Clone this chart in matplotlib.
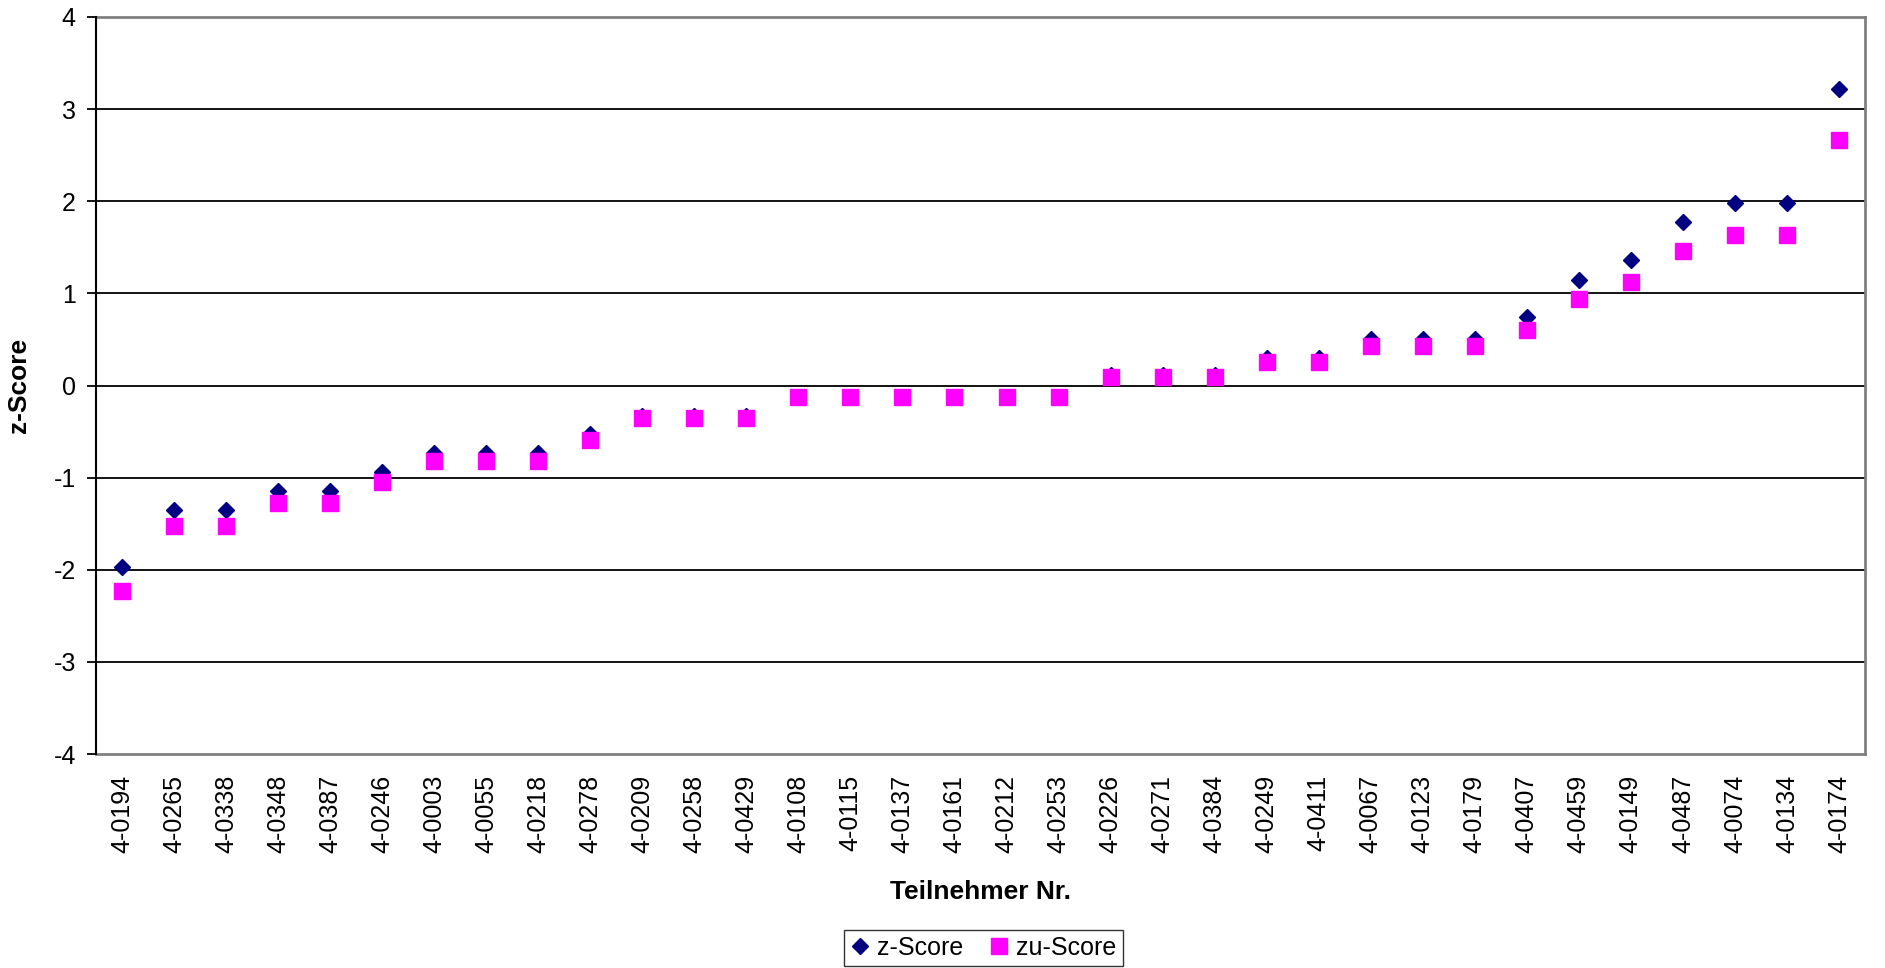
import numpy as np
import matplotlib
matplotlib.use("Agg")
import matplotlib.pyplot as plt

plt.rcParams['font.family'] = ['Liberation Sans', 'DejaVu Sans']
plt.rcParams['axes.unicode_minus'] = False

# Daten
teilnehmer = ['4-0194', '4-0265', '4-0338', '4-0348', '4-0387', '4-0246', '4-0003',
              '4-0055', '4-0218', '4-0278', '4-0209', '4-0258', '4-0429', '4-0108',
              '4-0115', '4-0137', '4-0161', '4-0212', '4-0253', '4-0226', '4-0271',
              '4-0384', '4-0249', '4-0411', '4-0067', '4-0123', '4-0179', '4-0407',
              '4-0459', '4-0149', '4-0487', '4-0074', '4-0134', '4-0174']
z_score = [-1.97, -1.35, -1.35, -1.15, -1.15, -0.94, -0.73, -0.73, -0.73, -0.53,
           -0.33, -0.33, -0.33, -0.12, -0.12, -0.12, -0.12, -0.12, -0.12, 0.11,
           0.11, 0.11, 0.30, 0.30, 0.51, 0.51, 0.51, 0.74, 1.15, 1.36, 1.77,
           1.98, 1.98, 3.22]
zu_score = [-2.23, -1.52, -1.52, -1.28, -1.28, -1.05, -0.82, -0.82, -0.82, -0.59,
            -0.35, -0.35, -0.35, -0.13, -0.13, -0.13, -0.13, -0.13, -0.13, 0.09,
            0.09, 0.09, 0.26, 0.26, 0.43, 0.43, 0.43, 0.60, 0.94, 1.12, 1.46,
            1.63, 1.63, 2.66]

x = np.arange(len(teilnehmer))

fig = plt.figure(figsize=(18.85, 9.68), dpi=100)
ax = fig.add_axes([96 / 1885, 1 - 754 / 968, (1865 - 96) / 1885, (754 - 17) / 968])

for y in range(-3, 4):
    ax.axhline(y, color='black', lw=1.3, zorder=1)

ax.plot(x, zu_score, 's', color='#FF00FF', ms=11, mec='#FF00FF', ls='none',
        label='zu-Score', zorder=3)
ax.plot(x, z_score, 'D', color='#000080', ms=8, mec='#000080', ls='none',
        label='z-Score', zorder=2)

ax.set_xlim(-0.5, len(teilnehmer) - 0.5)
ax.set_ylim(-4, 4)
ax.set_yticks(range(-4, 5))
ax.set_xticks(x)
ax.set_xticklabels(teilnehmer, rotation=90, fontsize=18)
ax.tick_params(axis='x', length=0, pad=15)
ax.tick_params(axis='y', labelsize=18, length=6.5, width=1.3, pad=8, direction='out')

for side in ['top', 'right', 'bottom']:
    ax.spines[side].set_color('#808080')
    ax.spines[side].set_linewidth(2)
ax.spines['left'].set_color('black')
ax.spines['left'].set_linewidth(1.5)
ax.spines['left'].set_zorder(4)

ax.set_xlabel('Teilnehmer Nr.', fontsize=19, fontweight='bold')
ax.xaxis.set_label_coords(0.5, -0.171)
ax.set_ylabel('z-Score', fontsize=19, fontweight='bold')
ax.yaxis.set_label_coords(-0.0367, 0.5)

handles, labels = ax.get_legend_handles_labels()
leg = fig.legend(handles[::-1], labels[::-1], loc='center',
                 bbox_to_anchor=(983 / 1885, 1 - 948 / 968), ncol=2, fontsize=18,
                 frameon=True, fancybox=False, edgecolor='black', handlelength=0.8,
                 handletextpad=0.3, columnspacing=1.0, borderpad=0.25)
leg.get_frame().set_linewidth(1)

fig.savefig('out.png', dpi=100, facecolor='white')
